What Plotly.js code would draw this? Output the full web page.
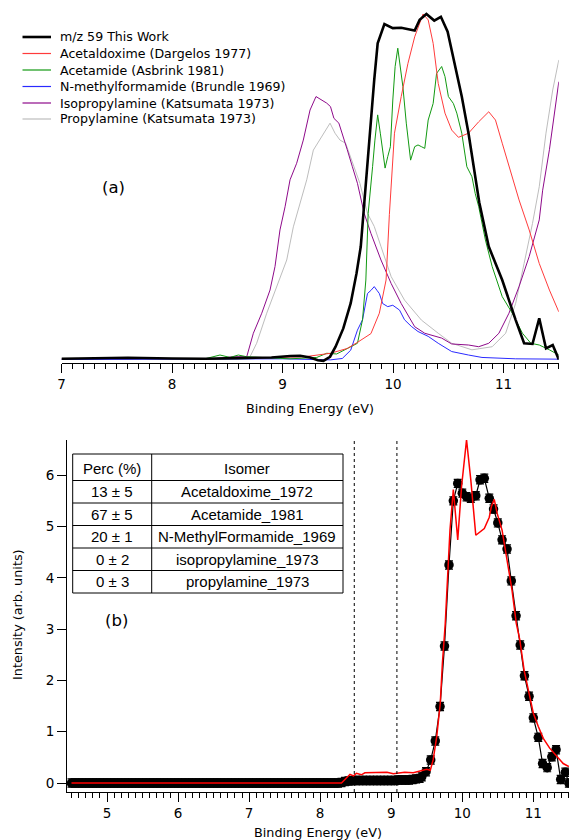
<!DOCTYPE html>
<html><head><meta charset="utf-8">
<script src="https://cdn.plot.ly/plotly-3.0.1.min.js"></script>
<style>html,body{margin:0;padding:0;background:#fff}#chart{width:569px;height:840px}</style>
</head><body><div id="chart"></div>
<script>
// ---------- Panel (a): reference photoelectron spectra (normalised) ----------
const seriesNames = ["m/z 59 This Work","Acetaldoxime (Dargelos 1977)","Acetamide (Asbrink 1981)","N-methylformamide (Brundle 1969)","Isopropylamine (Katsumata 1973)","Propylamine (Katsumata 1973)"];
const seriesColors = ["#000000","#ff3b3b","#119911","#2a2aff","#8e0a8a","#bdbdbd"];
const seriesWidths = [2.6,1,1,1,1,1];

const blackX = [7.0,7.3,7.6,8.0,8.3,8.6,8.9,9.07,9.16,9.25,9.32,9.37,9.43,9.48,9.55,9.617,9.67,9.708,9.745,9.78,9.80,9.83,9.861,9.922,9.998,10.074,10.15,10.196,10.241,10.302,10.373,10.433,10.494,10.561,10.622,10.683,10.744,10.78,10.866,10.988,11.11,11.186,11.262,11.323,11.384,11.445,11.5];
const blackY = [0.002,0.004,0.005,0.003,0.002,0.004,0.006,0.01,0.011,0.006,-0.002,-0.004,0.008,0.037,0.09,0.163,0.25,0.327,0.48,0.6,0.703,0.81,0.915,0.971,0.959,0.96,0.955,0.952,0.983,1.0,0.981,0.992,0.949,0.848,0.761,0.655,0.52,0.455,0.327,0.23,0.114,0.047,0.045,0.119,0.032,0.042,0.0];

const redX = [8.33,8.45,8.6,8.8,9.0,9.2,9.434,9.586,9.68,9.80,9.876,9.937,9.967,9.985,10.013,10.074,10.135,10.196,10.272,10.318,10.363,10.409,10.47,10.531,10.592,10.683,10.775,10.866,10.927,10.988,11.079,11.14,11.232,11.323,11.415,11.5];
const redY = [0.002,0.003,0.004,0.006,0.007,0.008,0.018,0.032,0.05,0.075,0.134,0.23,0.42,0.52,0.655,0.761,0.857,0.934,1.0,0.983,0.915,0.799,0.713,0.664,0.643,0.655,0.688,0.717,0.693,0.626,0.529,0.462,0.375,0.278,0.201,0.138];

const greenX = [8.31,8.434,8.525,8.6,8.676,8.857,9.068,9.31,9.40,9.49,9.586,9.678,9.724,9.754,9.775,9.794,9.815,9.836,9.861,9.885,9.906,9.928,9.952,9.976,9.998,10.019,10.043,10.068,10.089,10.12,10.159,10.196,10.226,10.257,10.287,10.318,10.363,10.394,10.44,10.47,10.501,10.546,10.577,10.622,10.668,10.714,10.744,10.775,10.836,10.897,10.988,11.079,11.171,11.247,11.323,11.415,11.5];
const greenY = [0.003,0.013,0.006,0.013,0.008,0.006,0.002,0.006,0.018,0.016,0.032,0.047,0.115,0.23,0.423,0.5,0.558,0.635,0.708,0.655,0.597,0.554,0.587,0.616,0.751,0.848,0.901,0.848,0.79,0.684,0.577,0.616,0.621,0.616,0.611,0.693,0.741,0.828,0.848,0.819,0.761,0.741,0.713,0.655,0.558,0.529,0.48,0.443,0.346,0.269,0.182,0.134,0.076,0.047,0.042,0.028,0.013];

const blueX = [7.0,8.0,9.0,9.434,9.541,9.617,9.678,9.724,9.769,9.80,9.83,9.855,9.876,9.906,9.952,9.998,10.059,10.104,10.165,10.226,10.318,10.409,10.531,10.683,10.805,11.11,11.5];
const blueY = [0,0,0.002,-0.001,0.003,0.027,0.085,0.115,0.191,0.2,0.211,0.2,0.191,0.162,0.153,0.157,0.143,0.115,0.096,0.081,0.067,0.047,0.023,0.013,0.006,0.002,0.001];

const purpleX = [7.0,8.0,8.4,8.55,8.676,8.736,8.812,8.887,8.932,8.977,9.023,9.068,9.128,9.188,9.249,9.303,9.355,9.40,9.434,9.465,9.51,9.541,9.586,9.632,9.678,9.739,9.80,9.891,9.983,10.074,10.196,10.287,10.44,10.531,10.683,10.775,10.866,10.958,11.049,11.14,11.232,11.323,11.354,11.415,11.475,11.5];
const purpleY = [0.002,0.002,0.003,0.008,0.008,0.076,0.134,0.201,0.269,0.375,0.442,0.52,0.568,0.635,0.722,0.761,0.751,0.742,0.732,0.698,0.684,0.655,0.607,0.558,0.51,0.423,0.365,0.288,0.22,0.162,0.095,0.076,0.062,0.045,0.042,0.037,0.047,0.076,0.134,0.211,0.298,0.404,0.49,0.607,0.751,0.804];

const grayX = [7.0,8.0,8.6,8.706,8.766,8.857,8.947,9.038,9.098,9.158,9.219,9.279,9.355,9.43,9.475,9.52,9.571,9.632,9.70,9.769,9.83,9.891,9.983,10.104,10.257,10.409,10.531,10.714,10.897,11.019,11.11,11.186,11.262,11.323,11.384,11.445,11.5];
const grayY = [0.001,0.001,0.002,0.008,0.047,0.134,0.211,0.288,0.384,0.452,0.52,0.606,0.645,0.684,0.655,0.635,0.626,0.569,0.51,0.423,0.385,0.327,0.24,0.172,0.114,0.076,0.047,0.028,0.037,0.076,0.163,0.278,0.394,0.5,0.655,0.78,0.867];

// ---------- Panel (b): measured spectrum with fit ----------
const baseX = [4.50,4.55,4.60,4.65,4.70,4.75,4.80,4.85,4.90,4.95,5.00,5.05,5.10,5.15,5.20,5.25,5.30,5.35,5.40,5.45,5.50,5.55,5.60,5.65,5.70,5.75,5.80,5.85,5.90,5.95,6.00,6.05,6.10,6.15,6.20,6.25,6.30,6.35,6.40,6.45,6.50,6.55,6.60,6.65,6.70,6.75,6.80,6.85,6.90,6.95,7.00,7.05,7.10,7.15,7.20,7.25,7.30,7.35,7.40,7.45,7.50,7.55,7.60,7.65,7.70,7.75,7.80,7.85,7.90,7.95,8.00,8.05,8.10,8.15,8.20,8.25,8.30,8.35,8.40,8.45,8.50,8.55,8.60,8.65,8.70,8.75,8.80,8.85,8.90,8.95,9.00,9.05,9.10,9.15,9.20,9.25,9.30,9.35,9.40];
const baseY = [0,0,0,0,0,0,0,0,0,0,0,0,0,0,0,0,0,0,0,0,0,0,0,0,0,0,0,0,0,0,0,0,0,0,0,0,0,0,0,0,0,0,0,0,0,0,0,0,0,0,0,0,0,0,0,0,0,0,0,0,0,0,0,0,0,0,0,0,0,0,0,0,0,0,0,0,0.01,0.03,0.04,0.05,0.05,0.05,0.05,0.05,0.05,0.05,0.05,0.05,0.05,0.05,0.05,0.05,0.06,0.06,0.06,0.06,0.07,0.08,0.09];
const peakX = [9.43,9.49,9.556,9.62,9.687,9.75,9.813,9.874,9.936,10.0,10.06,10.12,10.19,10.25,10.31,10.38,10.44,10.50,10.56,10.63,10.69,10.757,10.815,10.875,10.94,11.0,11.07,11.13,11.195,11.26,11.32,11.385,11.45,11.50];
const peakY = [0.12,0.22,0.45,0.82,1.49,2.67,4.25,5.50,5.84,5.65,5.58,5.55,5.60,5.91,5.94,5.55,5.34,5.07,4.74,4.56,3.94,3.26,2.69,2.09,1.69,1.27,0.89,0.38,0.30,0.51,0.65,0.07,0.21,0.0];
const measErr = 0.08;

const fitX = [4.5,8.30,8.42,8.47,8.51,8.58,8.63,8.80,8.94,9.03,9.12,9.19,9.31,9.41,9.50,9.55,9.59,9.64,9.69,9.72,9.76,9.827,9.874,9.936,9.99,10.06,10.12,10.19,10.25,10.31,10.38,10.41,10.45,10.49,10.56,10.63,10.70,10.76,10.81,10.87,10.93,11.0,11.07,11.14,11.23,11.33,11.42,11.50];
const fitY = [0,0,0.17,0.14,0.19,0.16,0.2,0.2,0.21,0.18,0.19,0.21,0.2,0.24,0.27,0.25,0.45,0.9,1.55,2.33,3.1,4.93,5.72,4.74,5.78,6.69,5.91,4.83,4.9,4.96,5.18,5.39,5.53,5.26,4.93,4.35,3.76,3.11,2.79,2.2,1.81,1.36,1.1,0.87,0.68,0.51,0.38,0.32];

const cutoffs = [8.48, 9.08];

const tableHeader = ["Perc (%)","Isomer"];
const percLabels = ["13 ± 5","67 ± 5","20 ± 1","0 ± 2","0 ± 3"];
const isomerLabels = ["Acetaldoxime_1972","Acetamide_1981","N-MethylFormamide_1969","isopropylamine_1973","propylamine_1973"];

// ---------- build ----------
const W = 569, H = 840;
const px = v => v / W, py = v => 1 - v / H;
const FONT = "DejaVu Sans, sans-serif";
const TFONT = "Liberation Sans, Arial, sans-serif";

const topX = [blackX, redX, greenX, blueX, purpleX, grayX];
const topY = [blackY, redY, greenY, blueY, purpleY, grayY];
const order = [5,4,3,2,1,0]; // draw black on top
const traces = [];
order.forEach(i => {
  traces.push({x: topX[i], y: topY[i], type: 'scatter', mode: 'lines', xaxis: 'x', yaxis: 'y',
    line: {color: seriesColors[i], width: seriesWidths[i]}, name: seriesNames[i], hoverinfo: 'skip'});
});
traces.push({x: baseX.concat(peakX), y: baseY.concat(peakY), type: 'scatter', mode: 'lines+markers',
  xaxis: 'x2', yaxis: 'y2', line: {color: '#000', width: 1.2},
  marker: {color: '#000', size: 9.5},
  error_y: {type: 'constant', value: measErr, color: '#000', thickness: 1.2, width: 4},
  hoverinfo: 'skip'});
traces.push({x: fitX, y: fitY, type: 'scatter', mode: 'lines', xaxis: 'x2', yaxis: 'y2',
  line: {color: '#ff0000', width: 1.5}, hoverinfo: 'skip'});

const shapes = [];
const annotations = [];

// legend (a)
const legRows = [37, 53.5, 70, 86.5, 103, 119];
seriesNames.forEach((n, i) => {
  shapes.push({type: 'line', xref: 'paper', yref: 'paper', x0: px(22.5), x1: px(51), y0: py(legRows[i]), y1: py(legRows[i]),
    line: {color: seriesColors[i], width: i === 0 ? 2.6 : 1.2}});
  annotations.push({xref: 'paper', yref: 'paper', x: px(57.5), y: py(legRows[i]), text: n, showarrow: false,
    xanchor: 'left', yanchor: 'middle', font: {family: FONT, size: 12.6, color: '#000'}});
});

// dotted cut-off lines (b)
cutoffs.forEach(c => shapes.push({type: 'line', xref: 'x2', yref: 'y2 domain', x0: c, x1: c, y0: 0, y1: 1,
  line: {color: '#000', width: 1, dash: 'dot'}}));

// table (b)
const tL = 72.7, tR = 343, tC = 151.7;
const rowLines = [454, 480.5, 503, 525.5, 548, 570.5, 593];
shapes.push({type: 'rect', xref: 'paper', yref: 'paper', x0: px(tL), x1: px(tR), y0: py(rowLines[6]), y1: py(rowLines[0]),
  line: {color: '#000', width: 1}, fillcolor: '#fff', layer: 'above'});
shapes.push({type: 'line', xref: 'paper', yref: 'paper', x0: px(tC), x1: px(tC), y0: py(rowLines[6]), y1: py(rowLines[0]),
  line: {color: '#000', width: 1}});
for (let r = 1; r < 6; r++) shapes.push({type: 'line', xref: 'paper', yref: 'paper', x0: px(tL), x1: px(tR),
  y0: py(rowLines[r]), y1: py(rowLines[r]), line: {color: '#000', width: 1}});
const col1 = [tableHeader[0]].concat(percLabels), col2 = [tableHeader[1]].concat(isomerLabels);
for (let r = 0; r < 6; r++) {
  const yc = (rowLines[r] + rowLines[r + 1]) / 2 + (r === 0 ? 1 : 0);
  annotations.push({xref: 'paper', yref: 'paper', x: px((tL + tC) / 2), y: py(yc), text: col1[r], showarrow: false,
    xanchor: 'center', yanchor: 'middle', font: {family: TFONT, size: 15, color: '#000'}});
  annotations.push({xref: 'paper', yref: 'paper', x: px((tC + tR) / 2), y: py(yc), text: col2[r], showarrow: false,
    xanchor: 'center', yanchor: 'middle', font: {family: TFONT, size: 15, color: '#000'}});
}

// panel labels & axis titles
annotations.push({xref: 'paper', yref: 'paper', x: px(113), y: py(188), text: '(a)', showarrow: false,
  xanchor: 'center', yanchor: 'middle', font: {family: FONT, size: 16.5, color: '#000'}});
annotations.push({xref: 'paper', yref: 'paper', x: px(116), y: py(620), text: '(b)', showarrow: false,
  xanchor: 'center', yanchor: 'middle', font: {family: FONT, size: 16.5, color: '#000'}});
annotations.push({xref: 'paper', yref: 'paper', x: px(310), y: py(408), text: 'Binding Energy (eV)', showarrow: false,
  xanchor: 'center', yanchor: 'middle', font: {family: FONT, size: 12.8, color: '#000'}});
annotations.push({xref: 'paper', yref: 'paper', x: px(318), y: py(832), text: 'Binding Energy (eV)', showarrow: false,
  xanchor: 'center', yanchor: 'middle', font: {family: FONT, size: 12.8, color: '#000'}});
annotations.push({xref: 'paper', yref: 'paper', x: px(17), y: py(615), text: 'Intensity (arb. units)', showarrow: false,
  textangle: -90, xanchor: 'center', yanchor: 'middle', font: {family: FONT, size: 12.8, color: '#000'}});

const axBase = {showgrid: false, zeroline: false, showline: true, linecolor: '#000', linewidth: 1,
  ticks: 'outside', ticklen: 9, tickwidth: 1, tickcolor: '#000',
  tickfont: {family: FONT, size: 13.5, color: '#000'}};

const layout = {
  width: W, height: H, margin: {l: 0, r: 0, t: 0, b: 0, pad: 0},
  paper_bgcolor: '#fff', plot_bgcolor: '#fff', showlegend: false,
  xaxis: Object.assign({}, axBase, {domain: [px(61.5), px(558.8)], range: [7, 11.5], anchor: 'y',
    tick0: 7, dtick: 1, minor: {dtick: 0.1, ticks: 'outside', ticklen: 4.5, tickcolor: '#000', tickwidth: 1, showgrid: false}}),
  yaxis: {domain: [py(363), py(5)], range: [-0.0101, 1.026], visible: false, showgrid: false, zeroline: false, anchor: 'x'},
  xaxis2: Object.assign({}, axBase, {domain: [px(67), 1], range: [4.437, 11.502], anchor: 'y2',
    tick0: 5, dtick: 1, minor: {dtick: 0.1, ticks: 'outside', ticklen: 4.5, tickcolor: '#000', tickwidth: 1, showgrid: false}}),
  yaxis2: Object.assign({}, axBase, {domain: [py(792), py(440)], range: [-0.175, 6.686], anchor: 'x2', tick0: 0, dtick: 1}),
  shapes: shapes, annotations: annotations
};

Plotly.newPlot('chart', traces, layout, {staticPlot: true, displayModeBar: false});
</script></body></html>
